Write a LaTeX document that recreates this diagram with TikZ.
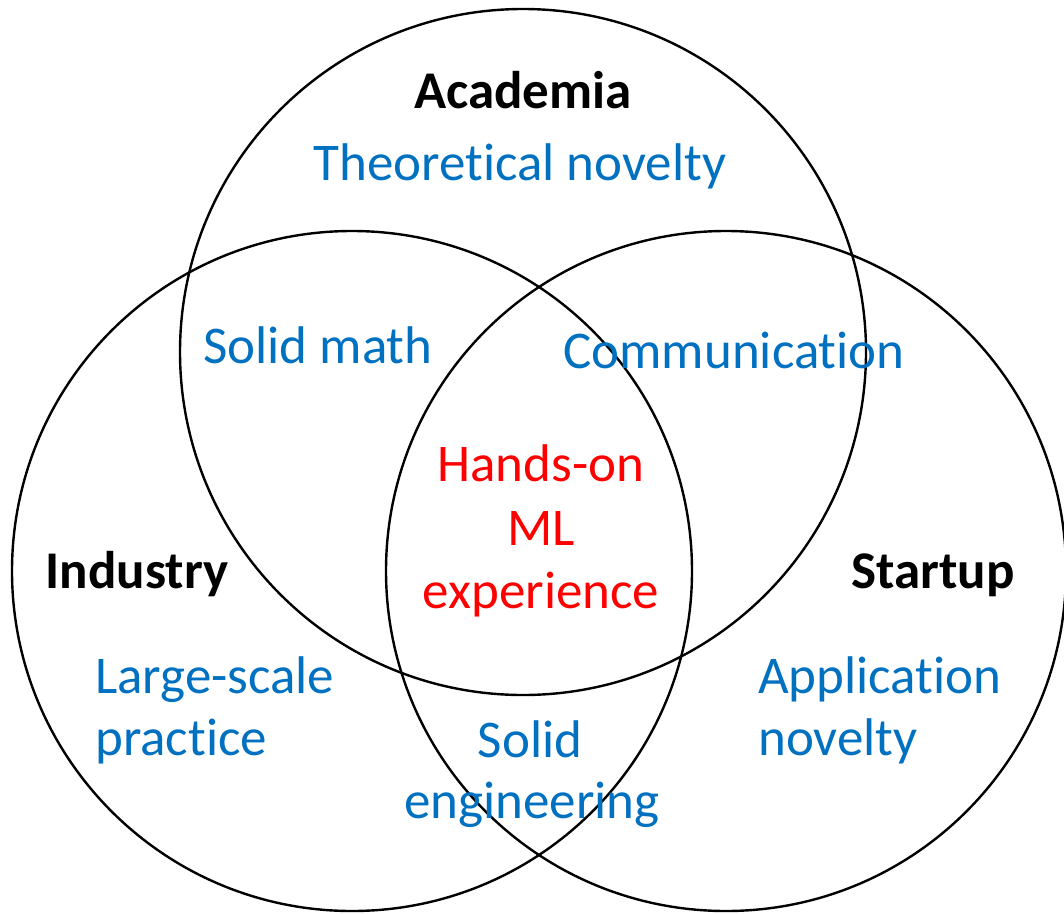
\documentclass[tikz,border=0pt]{standalone}
\usepackage{fontspec}
\setmainfont[Ligatures=NoCommon]{Carlito}
\definecolor{vblue}{HTML}{0070C0}
\definecolor{vred}{HTML}{FF0000}
\begin{document}
\begin{tikzpicture}[x=1pt,y=-1pt,
  ring/.style={draw=black,line width=2.4pt},
  title/.style={font=\fontsize{53}{63}\selectfont\bfseries,text=black,anchor=base,inner sep=0pt},
  trait/.style={font=\fontsize{53}{63}\selectfont,text=vblue,anchor=base,inner sep=0pt},
  core/.style={font=\fontsize{53}{63}\selectfont,text=vred,anchor=base,inner sep=0pt}]
\useasboundingbox (0,0) rectangle (1064,913);
\coordinate (ca) at (523,352);
\coordinate (ci) at (352,571);
\coordinate (cs) at (726,571);
\draw[ring] (ca) circle (343);
\draw[ring] (ci) circle (340);
\draw[ring] (cs) circle (340);
\node[title] (academia) at (523,108) {Academia};
\node[trait] (theo) at (520,180) {Theoretical novelty};
\node[trait] (math) at (318,363) {Solid math};
\node[trait] (comm) at (734,368) {Communication};
\node[core] (h1) at (541,481) {Hands-on};
\node[core] (h2) at (541,545) {ML};
\node[core] (h3) at (541,608) {experience};
\node[title] (industry) at (137,588) {Industry};
\node[title] (startup) at (933,588) {Startup};
\node[trait,anchor=base west] (ls1) at (95,693) {Large-scale};
\node[trait,anchor=base west] (ls2) at (95,755) {practice};
\node[trait,anchor=base west] (ap1) at (758,693) {Application};
\node[trait,anchor=base west] (ap2) at (758,755) {novelty};
\node[trait] (se1) at (530,757) {Solid};
\node[trait] (se2) at (532,818) {engineering};
\end{tikzpicture}
\end{document}
